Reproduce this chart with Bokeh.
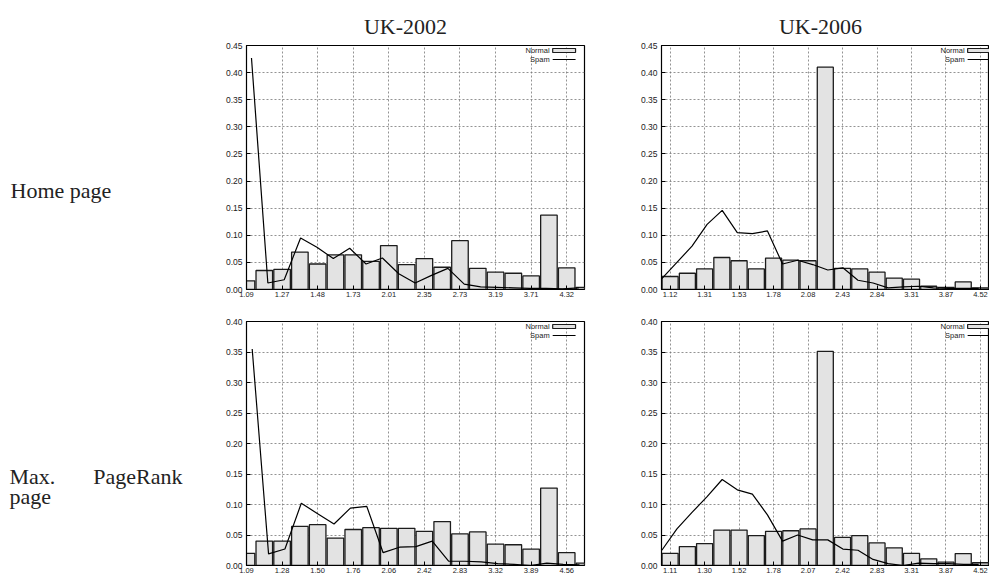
from bokeh.plotting import figure
from bokeh.layouts import column, row
from bokeh.models import Range1d, FixedTicker, NumeralTickFormatter
from bokeh.core.properties import value
from bokeh.embed import file_html
from bokeh.resources import INLINE

# ---------------- data ----------------
col_titles = ["UK-2002", "UK-2006"]
row_label_1 = "Home page"
row_label_2 = ["Max.", "PageRank", "page"]

legend_labels = ["Normal", "Spam"]

# Home page, UK-2002
hp02_ticks = ["1.09", "1.27", "1.48", "1.73", "2.01", "2.35", "2.73", "3.19", "3.71", "4.32"]
hp02_normal = [0.016, 0.035, 0.037, 0.069, 0.047, 0.064, 0.064, 0.052, 0.081, 0.046,
               0.057, 0.041, 0.090, 0.039, 0.032, 0.030, 0.025, 0.137, 0.040, 0.004]
hp02_spam = [0.427, 0.012, 0.018, 0.095, 0.078, 0.057, 0.076, 0.047, 0.058, 0.029, 0.012,
             0.026, 0.039, 0.010, 0.005, 0.004, 0.003, 0.002, 0.002, 0.001, 0.003]

# Home page, UK-2006
hp06_ticks = ["1.12", "1.31", "1.53", "1.78", "2.08", "2.43", "2.84", "3.31", "3.87", "4.52"]
hp06_normal = [0.024, 0.030, 0.038, 0.059, 0.053, 0.038, 0.058, 0.054, 0.053, 0.410,
               0.039, 0.038, 0.032, 0.021, 0.019, 0.006, 0.004, 0.014, 0.003]
hp06_spam = [0.020, 0.050, 0.080, 0.120, 0.146, 0.105, 0.103, 0.108, 0.047, 0.054, 0.046,
             0.036, 0.040, 0.017, 0.012, 0.003, 0.005, 0.006, 0.003, 0.002, 0.002, 0.002]

# Max. PageRank page, UK-2002
pr02_ticks = ["1.09", "1.28", "1.50", "1.76", "2.06", "2.42", "2.83", "3.32", "3.89", "4.56"]
pr02_normal = [0.020, 0.040, 0.040, 0.064, 0.067, 0.045, 0.059, 0.062, 0.061, 0.061,
               0.056, 0.072, 0.052, 0.055, 0.035, 0.034, 0.027, 0.127, 0.021, 0.004]
pr02_spam = [0.355, 0.019, 0.027, 0.102, 0.085, 0.068, 0.094, 0.097, 0.021, 0.030, 0.031,
             0.040, 0.007, 0.007, 0.006, 0.003, 0.002, 0.000, 0.004, 0.002, 0.001]

# Max. PageRank page, UK-2006
pr06_ticks = ["1.11", "1.30", "1.52", "1.78", "2.07", "2.42", "2.83", "3.31", "3.87", "4.52"]
pr06_normal = [0.020, 0.031, 0.036, 0.058, 0.058, 0.049, 0.056, 0.057, 0.060, 0.351,
               0.046, 0.049, 0.037, 0.029, 0.020, 0.011, 0.0055, 0.0195, 0.0045]
pr06_spam = [0.025, 0.060, 0.087, 0.113, 0.141, 0.124, 0.117, 0.083, 0.040, 0.050, 0.042,
             0.042, 0.027, 0.025, 0.010, 0.003, 0.000, 0.004, 0.003, 0.003, 0.002, 0.002]

y_ticks_045 = [0.0, 0.05, 0.10, 0.15, 0.20, 0.25, 0.30, 0.35, 0.40, 0.45]
y_ticks_040 = [0.0, 0.05, 0.10, 0.15, 0.20, 0.25, 0.30, 0.35, 0.40]

SERIF = value("Liberation Serif")
SANS = "Liberation Sans"


def panel(normal, spam, spam_start, spam_step, tick_labels, x_lo, x_hi, y_ticks,
          w, h, bl, br, bt, bb):
    y_max = y_ticks[-1]
    fw = w - bl - br
    fh = h - bt - bb
    p = figure(width=w, height=h, x_range=Range1d(x_lo, x_hi), y_range=Range1d(0, y_max),
               output_backend="svg", toolbar_location=None, title=None,
               min_border_left=bl, min_border_right=br, min_border_top=bt, min_border_bottom=bb)
    p.outline_line_color = "black"
    p.outline_line_width = 1.2
    bins = list(range(len(normal)))
    p.vbar(x=bins, top=normal, bottom=0, width=0.93, fill_color="#e3e3e3",
           line_color="#1c1c1c", line_width=1.3)
    spam_x = [spam_start + i * spam_step for i in range(len(spam))]
    p.line(spam_x, spam, line_color="black", line_width=1.2)

    ticks = [2 * i for i in range(len(tick_labels))]
    p.xaxis.ticker = FixedTicker(ticks=ticks)
    p.xaxis.major_label_overrides = {t: lab for t, lab in zip(ticks, tick_labels)}
    p.yaxis.ticker = FixedTicker(ticks=y_ticks)
    p.yaxis.formatter = NumeralTickFormatter(format="0.00")
    for ax in (p.xaxis, p.yaxis):
        ax.major_label_text_font = SANS
        ax.major_label_text_color = "#222222"
        ax.major_tick_in = 4
        ax.major_tick_out = 0
        ax.minor_tick_line_color = None
        ax.axis_line_color = "black"
        ax.major_tick_line_color = "black"
    p.xaxis.major_label_text_font_size = "7.5px"
    p.yaxis.major_label_text_font_size = "8.5px"
    p.xaxis.major_label_standoff = 2
    p.yaxis.major_label_standoff = 4
    p.grid.grid_line_color = "#777777"
    p.grid.grid_line_dash = "2 2"
    p.grid.grid_line_width = 0.8

    # legend drawn gnuplot-style (label on the left of the sample), placed in frame pixels
    def gx(off):
        return x_lo + off * (x_hi - x_lo) / fw

    def gy(off):
        return y_max - off * y_max / fh

    p.text(x=[gx(305), gx(305)], y=[gy(5), gy(14)], text=legend_labels,
           text_align="right", text_baseline="middle", text_font=value(SANS),
           text_font_size="7.5px", text_color="#222222")
    p.quad(left=[gx(308)], right=[gx(331)], top=[gy(3)], bottom=[gy(7)],
           fill_color="#e3e3e3", line_color="#1c1c1c", line_width=1.2)
    p.segment(x0=[gx(308)], x1=[gx(331)], y0=[gy(14)], y1=[gy(14)],
              line_color="black", line_width=1.2)
    return p


def canvas(w, h):
    c = figure(width=w, height=h, x_range=Range1d(0, w), y_range=Range1d(h, 0),
               x_axis_type=None, y_axis_type=None, output_backend="svg", title=None,
               toolbar_location=None, min_border=0, min_border_left=0, min_border_right=0,
               min_border_top=0, min_border_bottom=0, outline_line_color=None)
    c.xgrid.visible = False
    c.ygrid.visible = False
    return c


TOTAL_W = 989
TITLE_H = 38
ROW1_H = 278
ROW2_H = 259
LABEL_W = 222
W1 = 415
W2 = 352
PX_PER_BIN_2 = 340 / 19.6  # UK-2006 panels: bin spacing in pixels
X_HI_2 = -0.5 + 330 / PX_PER_BIN_2

title_c = canvas(TOTAL_W, TITLE_H)
title_c.text(x=[405, 820], y=[26, 26], text=col_titles, text_align="center",
             text_baseline="alphabetic", text_font=SERIF, text_font_size="22px",
             text_color="#222222")

lab1 = canvas(LABEL_W, ROW1_H)
lab1.text(x=[10], y=[165], text=[row_label_1], text_align="left", text_baseline="alphabetic",
          text_font=SERIF, text_font_size="22px", text_color="#222222")

lab2 = canvas(LABEL_W, ROW2_H)
lab2.text(x=[9, 182, 9], y=[164, 164, 186], text=row_label_2,
          text_align=["left", "right", "left"], text_baseline="alphabetic",
          text_font=SERIF, text_font_size="22px", text_color="#222222")

p1 = panel(hp02_normal, hp02_spam, 0.28, 0.92, hp02_ticks, 0, 19, y_ticks_045,
           W1, ROW1_H, 22, 53, 7, 27)
p2 = panel(hp06_normal, hp06_spam, -0.48, 0.875, hp06_ticks, -0.5, X_HI_2, y_ticks_045,
           W2, ROW1_H, 22, 0, 7, 27)
p3 = panel(pr02_normal, pr02_spam, 0.32, 0.92, pr02_ticks, 0, 19, y_ticks_040,
           W1, ROW2_H, 22, 53, 5, 10)
p4 = panel(pr06_normal, pr06_spam, -0.48, 0.875, pr06_ticks, -0.5, X_HI_2, y_ticks_040,
           W2, ROW2_H, 22, 0, 5, 10)

layout = column(title_c, row(lab1, p1, p2), row(lab2, p3, p4))

open("out.html", "w").write(file_html(layout, INLINE))
